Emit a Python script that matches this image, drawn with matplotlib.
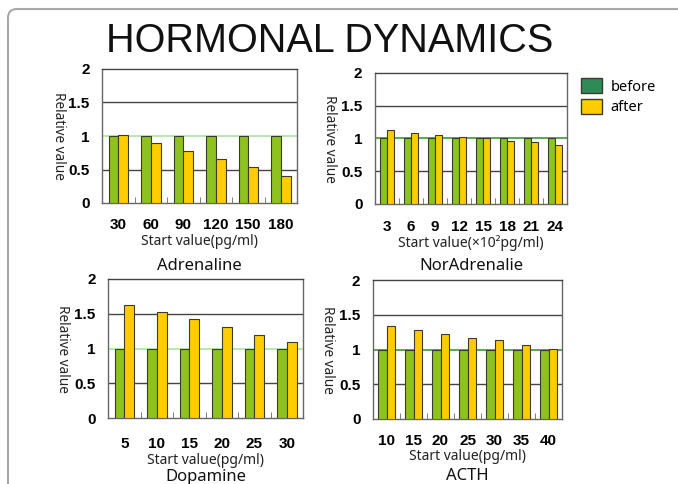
import matplotlib
matplotlib.use("Agg")
import matplotlib.pyplot as plt
import matplotlib.patches as mpatches
from matplotlib.transforms import IdentityTransform
import numpy as np

# ---- data ----
adr_labels = ['30', '60', '90', '120', '150', '180']
adr_before = [1.0, 1.0, 1.0, 1.0, 1.0, 1.0]
adr_after = [1.02, 0.90, 0.78, 0.66, 0.535, 0.41]

nor_labels = ['3', '6', '9', '12', '15', '18', '21', '24']
nor_before = [1.0, 1.0, 1.0, 1.0, 1.0, 1.0, 1.0, 1.0]
nor_after = [1.13, 1.08, 1.06, 1.02, 1.00, 0.96, 0.94, 0.90]

dop_labels = ['5', '10', '15', '20', '25', '30']
dop_before = [1.0, 1.0, 1.0, 1.0, 1.0, 1.0]
dop_after = [1.63, 1.53, 1.42, 1.31, 1.20, 1.10]

acth_labels = ['10', '15', '20', '25', '30', '35', '40']
acth_before = [1.0, 1.0, 1.0, 1.0, 1.0, 1.0, 1.0]
acth_after = [1.34, 1.28, 1.23, 1.17, 1.13, 1.07, 1.01]

yticks = [0, 0.5, 1, 1.5, 2]
ytick_labels = ['0', '0.5', '1', '1.5', '2']

GREEN = '#8DC21F'
YELLOW = '#FFCC00'
EDGE = '#3c3c28'
LEG_GREEN = '#2E8B57'

W, H = 678, 484
fig = plt.figure(figsize=(W / 100, H / 100), dpi=100)
fig.patch.set_facecolor('white')

# frame around the slide
frame = mpatches.FancyBboxPatch((8, -30), 720, H - 9 + 30,
                                boxstyle="round,pad=0,rounding_size=9",
                                transform=IdentityTransform(), fill=False,
                                edgecolor='#a8a8a8', linewidth=1.5)
fig.patches.append(frame)

fig.text(330 / W, 1 - 41 / H, 'HORMONAL DYNAMICS', fontsize=28.5,
         family='Liberation Sans', ha='center', va='center', color='#111111')


def px(x0, y0, x1, y1):
    return [x0 / W, 1 - y1 / H, (x1 - x0) / W, (y1 - y0) / H]


def panel(rect, labels, before, after, one_color, xlab, name, ylab_x, tick_y, xlab_y, name_y):
    ax = fig.add_axes(px(*rect))
    n = len(labels)
    x = np.arange(n)
    bw = 0.3
    ax.bar(x - bw / 2, before, width=bw, color=GREEN, edgecolor=EDGE, linewidth=0.8, zorder=3)
    ax.bar(x + bw / 2, after, width=bw, color=YELLOW, edgecolor=EDGE, linewidth=0.8, zorder=3)
    ax.set_xlim(-0.5, n - 0.5)
    ax.set_ylim(0, 2)
    for yv in [0.5, 1.5]:
        ax.axhline(yv, color='#444444', linewidth=1.0, zorder=1)
    ax.axhline(1.0, color=one_color, linewidth=1.2, zorder=1)
    ax.set_yticks(yticks)
    ax.set_yticklabels(ytick_labels, fontsize=11, fontweight='bold', family='Liberation Sans')
    ax.tick_params(axis='y', length=0, pad=9)
    ax.set_xticks(x)
    ax.set_xticklabels(labels, fontsize=11, fontweight='bold', family='Liberation Sans')
    ax.set_xticks(np.arange(n + 1) - 0.5, minor=True)
    ax.tick_params(axis='x', which='major', length=0, pad=(tick_y - rect[3]) * 0.72 - 5)
    ax.tick_params(axis='x', which='minor', direction='in', length=4, color='#666666')
    for s in ax.spines.values():
        s.set_color('#666666')
        s.set_linewidth(1.0)
    ax.spines['top'].set_color('#444444')
    fig.text(ylab_x / W, 1 - ((rect[1] + rect[3]) / 2) / H, 'Relative value', rotation=270,
             fontsize=9.8, family='Noto Sans', ha='center', va='center', color='#222222')
    cx = (rect[0] + rect[2]) / 2
    fig.text(cx / W, 1 - xlab_y / H, xlab, fontsize=10, family='Noto Sans',
             ha='center', va='center', color='#222222')
    fig.text(cx / W, 1 - name_y / H, name, fontsize=12, family='Noto Sans',
             ha='center', va='center', color='#111111')
    return ax


panel((102, 69, 297, 203), adr_labels, adr_before, adr_after, '#a8e8a0',
      'Start value(pg/ml)', 'Adrenaline', 58, 225, 241, 266)
panel((375, 73, 567, 204), nor_labels, nor_before, nor_after, '#3a9a3a',
      'Start value(×10²pg/ml)', 'NorAdrenalie', 330, 227, 243, 266)
panel((108, 279, 303, 418), dop_labels, dop_before, dop_after, '#a8e8a0',
      'Start value(pg/ml)', 'Dopamine', 62, 444, 460, 477)
panel((373, 280, 562, 419), acth_labels, acth_before, acth_after, '#3a9a3a',
      'Start value(pg/ml)', 'ACTH', 328, 441, 457, 476)

# legend
handles = [mpatches.Patch(facecolor=LEG_GREEN, edgecolor=EDGE, label='before'),
           mpatches.Patch(facecolor=YELLOW, edgecolor=EDGE, label='after')]
fig.legend(handles=handles, loc='upper left', bbox_to_anchor=(571 / W, 1 - 68 / H),
           frameon=False, prop={'family': 'Noto Sans', 'size': 10.5},
           handlelength=1.4, handleheight=1.2, handletextpad=0.6, labelspacing=0.3,
           borderpad=0.2)

fig.savefig('out.png', dpi=100)
